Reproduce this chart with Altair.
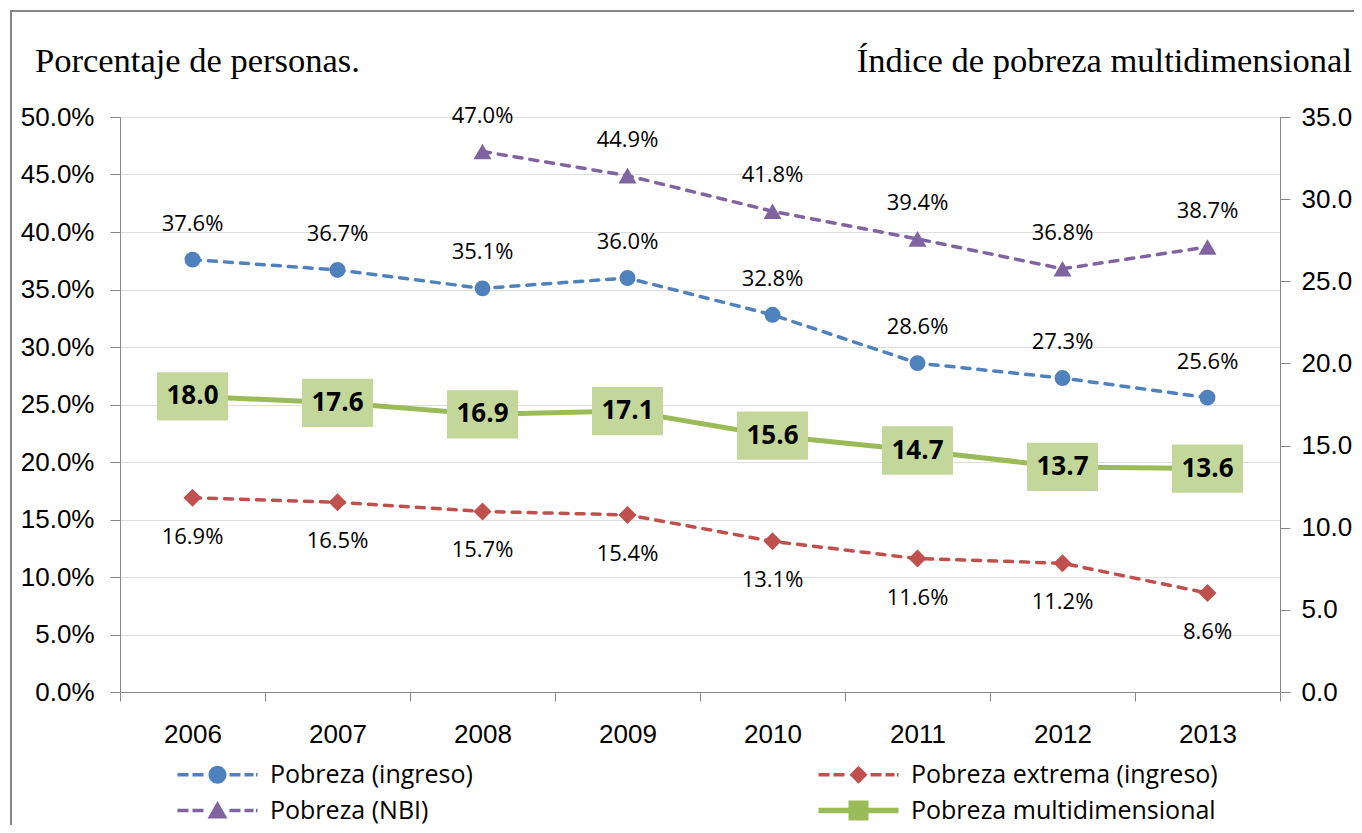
import altair as alt
import pandas as pd

# ---------------- data ----------------
years = ["2006", "2007", "2008", "2009", "2010", "2011", "2012", "2013"]
pobreza_ingreso = [37.6, 36.7, 35.1, 36.0, 32.8, 28.6, 27.3, 25.6]
pobreza_extrema = [16.9, 16.5, 15.7, 15.4, 13.1, 11.6, 11.2, 8.6]
pobreza_nbi = [None, None, 47.0, 44.9, 41.8, 39.4, 36.8, 38.7]
pobreza_multi = [18.0, 17.6, 16.9, 17.1, 15.6, 14.7, 13.7, 13.6]

# legend order (filled column by column: left column first)
series_names = ["Pobreza (ingreso)", "Pobreza (NBI)",
                "Pobreza extrema (ingreso)", "Pobreza multidimensional"]
left_ticks = [0, 5, 10, 15, 20, 25, 30, 35, 40, 45, 50]
right_ticks = [0, 5, 10, 15, 20, 25, 30, 35]
title_left = "Porcentaje de personas."
title_right = "Índice de pobreza multidimensional"

# ---------------- style ----------------
BLUE, RED, PURPLE, GREEN, BOX = "#4F81BD", "#C0504D", "#8064A2", "#9BBB59", "#C4D79B"
colors = [BLUE, PURPLE, RED, GREEN]
FONT = "Open Sans"
AXIS_GRAY = "#868686"
W, H = 1160, 575


def frame(vals):
    df = pd.DataFrame({"year": years, "v": vals})
    return df.dropna()


def rect(x0, x1, h):
    return f"M{x0},{-h}L{x1},{-h}L{x1},{h}L{x0},{h}Z"


circle_p = "M-0.9,0A0.9,0.9,0,1,1,0.9,0A0.9,0.9,0,1,1,-0.9,0Z"
diamond_p = "M0,-0.9L0.9,0L0,0.9L-0.9,0Z"
tri_p = "M0,-0.95L1,0.8L-1,0.8Z"
square_p = "M-1,-1L1,-1L1,1L-1,1Z"
dashes = (rect(-4, -2.9, 0.17) + rect(-2.5, -1.4, 0.17) +
          rect(1.2, 2.3, 0.17) + rect(2.7, 3.6, 0.17) + rect(3.85, 4.0, 0.17))
legend_paths = [
    dashes + circle_p,
    dashes + tri_p,
    dashes + diamond_p,
    rect(-4, 4, 0.27) + square_p,
]

x_enc = alt.X("year:O", sort=years,
              scale=alt.Scale(type="band", domain=years, paddingInner=0, paddingOuter=0),
              axis=alt.Axis(title=None, tickBand="extent", labelAngle=0, tickSize=9,
                            labelPadding=20, labelFontSize=26))

y_left = alt.Y("v:Q", scale=alt.Scale(domain=[0, 50], nice=False, zero=True),
               axis=alt.Axis(title=None, values=left_ticks, orient="left",
                             labelExpr="format(datum.value, '.1f') + '%'",
                             tickSize=10, labelPadding=16, labelFlush=False,
                             labelOverlap=False, labelFontSize=26))
y_right = alt.Y("v:Q", scale=alt.Scale(domain=[0, 35], nice=False, zero=True),
                axis=alt.Axis(title=None, values=right_ticks, orient="right",
                              format=".1f", tickSize=10, labelPadding=11,
                              labelFlush=False, labelOverlap=False, labelFontSize=26))


def dashed_series(vals, color, shape, size, dy):
    base = alt.Chart(frame(vals)).encode(x=x_enc, y=y_left)
    line = base.mark_line(color=color, strokeWidth=3.5, strokeDash=[8, 8], strokeCap="round")
    pts = base.mark_point(shape=shape, filled=True, size=size, color=color, opacity=1)
    txt = base.transform_calculate(lab="format(datum.v, '.1f') + '%'").mark_text(
        dy=dy, font=FONT, fontSize=22, color="black").encode(text="lab:N")
    return [line, pts, txt]


left_layers = (dashed_series(pobreza_ingreso, BLUE, "circle", 254, -36)
               + dashed_series(pobreza_extrema, RED, "diamond", 324, 39)
               + dashed_series(pobreza_nbi, PURPLE, "triangle-up", 324, -36))

# legend built from the colour/shape scales (no marks drawn)
legend_def = alt.Legend(title=None, orient="none", legendX=85, legendY=645, columns=2,
                        columnPadding=345, rowPadding=10, symbolSize=400,
                        symbolStrokeWidth=0, symbolOpacity=1, labelFont=FONT,
                        labelFontSize=25, labelColor="black", labelOffset=40,
                        labelLimit=600, padding=0)
legend_layer = alt.Chart(pd.DataFrame({"serie": series_names})).transform_filter(
    "false").mark_point(filled=True, opacity=1).encode(
    color=alt.Color("serie:N", scale=alt.Scale(domain=series_names, range=colors),
                    legend=legend_def),
    shape=alt.Shape("serie:N", scale=alt.Scale(domain=series_names, range=legend_paths),
                    legend=legend_def),
)
left_layers.append(legend_layer)

mbase = alt.Chart(frame(pobreza_multi)).encode(x=x_enc, y=y_right)
right_layers = [
    mbase.mark_line(color=GREEN, strokeWidth=5),
    mbase.mark_point(shape="M-1,-0.68L1,-0.68L1,0.68L-1,0.68Z", filled=True,
                     size=71 * 71, color=BOX, opacity=1),
    mbase.mark_text(font=FONT, fontSize=26, fontWeight="bold", color="black").encode(
        text=alt.Text("v:Q", format=".1f")),
]

one = pd.DataFrame({"a": [1]})
border = alt.Chart(one).mark_rect(fillOpacity=0, stroke=AXIS_GRAY, strokeWidth=2).encode(
    x=alt.value(-109), x2=alt.value(W + 120), y=alt.value(-106), y2=alt.value(H + 160))
t_left = alt.Chart(pd.DataFrame({"t": [title_left]})).mark_text(
    align="left", baseline="middle", font="Liberation Serif", fontSize=34.5,
    color="black").encode(text="t:N", x=alt.value(-85), y=alt.value(-55))
t_right = alt.Chart(pd.DataFrame({"t": [title_right]})).mark_text(
    align="right", baseline="middle", font="Liberation Serif", fontSize=34.5,
    color="black").encode(text="t:N", x=alt.value(1232), y=alt.value(-55))

left = alt.layer(*left_layers)
right = alt.layer(*right_layers)

chart = alt.layer(border, t_left, t_right, left, right).resolve_scale(
    y="independent").properties(
    width=W, height=H,
    autosize=alt.AutoSizeParams(type="none"),
    padding={"left": 112, "top": 109, "right": 74, "bottom": 133},
).configure_view(stroke=None).configure_axis(
    domainColor=AXIS_GRAY, domainWidth=2, tickColor=AXIS_GRAY, tickWidth=2,
    labelFont=FONT, labelColor="black", grid=False,
).configure(background="white")

chart.save("out.html", embed_options={"renderer": "svg", "actions": False})
